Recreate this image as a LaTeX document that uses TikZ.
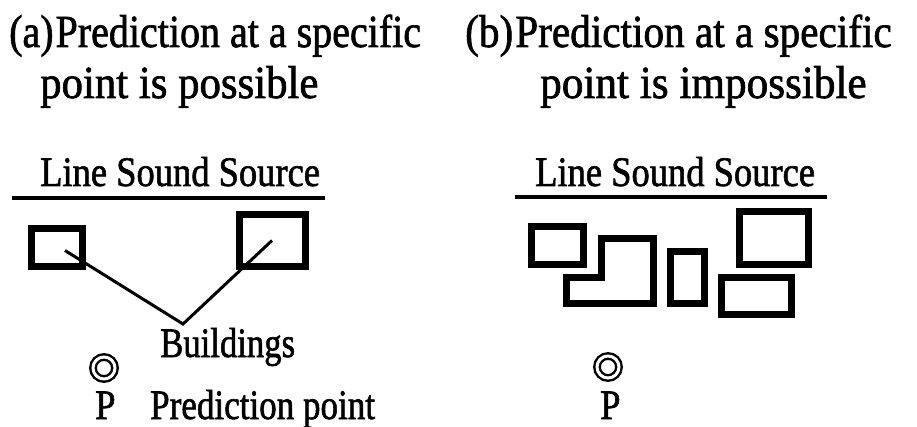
\documentclass[tikz,border=0pt]{standalone}
\usepackage{graphicx}
\usepackage{fontspec}
\setmainfont{Liberation Serif}[FakeBold=1.5]
\usetikzlibrary{calc}
\newcommand{\tallt}[2]{\scalebox{#1}[1.15]{#2}}
\begin{document}
\begin{tikzpicture}[x=1pt,y=-1pt,
  ttl/.style={anchor=base west,inner sep=0,font=\fontsize{40}{48}\selectfont},
  lbl/.style={anchor=base west,inner sep=0,font=\fontsize{36.5}{42}\selectfont},
  src/.style={line width=3.5pt},
  bldg/.style={draw,line width=7pt,inner sep=0,outer sep=0,rectangle},
  ptr/.style={line width=3pt},
  target/.style={circle,draw,double,line width=2.4pt,double distance=3pt,minimum size=22pt,inner sep=0}]
\useasboundingbox (0,0) rectangle (917,427);
% ---------- (a) ----------
\node[ttl] (ta1) at (9,47) {\tallt{1}{(a)\hspace{2pt}Prediction at a specific}};
\node[ttl] (ta2) at (40,98) {\tallt{1.07}{point is possible}};
\node[lbl] (lssa) at (40,186) {\tallt{1}{Line Sound Source}};
\coordinate (sa1) at (12,198);
\coordinate (sa2) at (325,198);
\draw[src] (sa1) -- (sa2);
\node[bldg,minimum width=51pt,minimum height=38pt] (ba1) at (57,247.5) {};
\node[bldg,minimum width=66pt,minimum height=52pt] (ba2) at (272,240.5) {};
\coordinate (v) at (183,324);
\draw[ptr] ($(ba1.center)+(8,3)$) -- (v) -- (ba2.center);
\node[lbl] (bl) at (160,357) {\tallt{0.95}{Buildings}};
\node[target] (pa) at (104,368) {};
\node[lbl] (pla) at (95,419) {\tallt{1}{P}};
\node[lbl] (ppa) at (150,419) {\tallt{0.96}{Prediction point}};
% ---------- (b) ----------
\node[ttl] (tb1) at (465,47) {\tallt{1.03}{(b)\hspace{2pt}Prediction at a specific}};
\node[ttl] (tb2) at (540,98) {\tallt{1.08}{point is impossible}};
\node[lbl] (lssb) at (535,186) {\tallt{1}{Line Sound Source}};
\coordinate (sb1) at (515,197);
\coordinate (sb2) at (827,197);
\draw[src] (sb1) -- (sb2);
\node[bldg,minimum width=52pt,minimum height=38pt] (bb1) at (557.5,245.5) {};
\draw[line width=7pt,line join=miter] (601.5,238.5) -- (653.5,238.5) -- (653.5,303.5) -- (566.5,303.5) -- (566.5,277.5) -- (601.5,277.5) -- cycle;
\node[bldg,minimum width=34pt,minimum height=52pt] (bb3) at (687.5,277.5) {};
\node[bldg,minimum width=69pt,minimum height=53pt] (bb4) at (774,238) {};
\node[bldg,minimum width=70pt,minimum height=37pt] (bb5) at (756.5,296) {};
\node[target] (pb) at (608,367) {};
\node[lbl] (plb) at (600,419) {\tallt{1}{P}};
\end{tikzpicture}
\end{document}
